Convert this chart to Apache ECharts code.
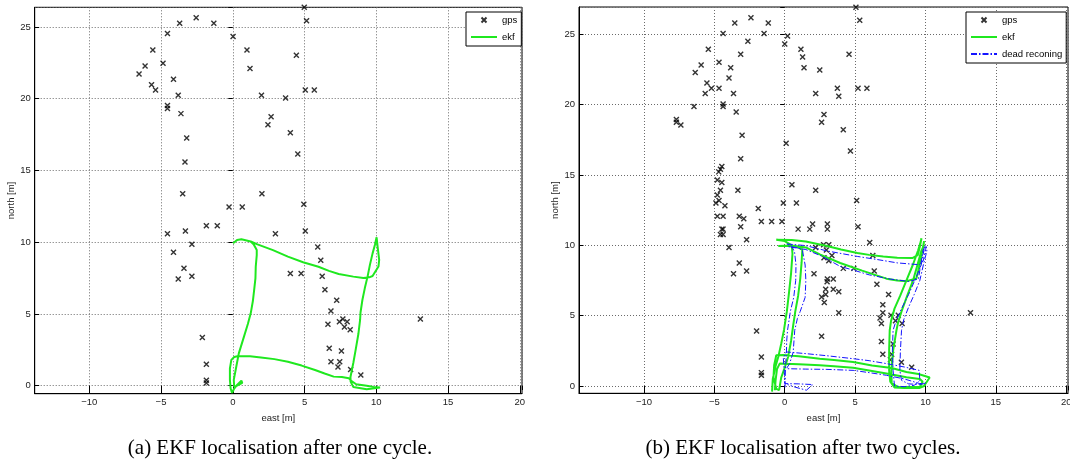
<!DOCTYPE html>
<html>
<head>
<meta charset="utf-8">
<script src="https://cdn.jsdelivr.net/npm/echarts@6/dist/echarts.min.js"></script>
<style>
html,body{margin:0;padding:0;background:#fff;}
#chart{width:1070px;height:459px;}
</style>
</head>
<body>
<div id="chart"></div>
<script>
// ---------- data ----------
const legendOne = ['gps', 'ekf'];
const legendTwo = ['gps', 'ekf', 'dead reconing'];
const captionOne = '(a) EKF localisation after one cycle.';
const captionTwo = '(b) EKF localisation after two cycles.';
const xName = 'east [m]';
const yName = 'north [m]';

const gpsOne = [
[4.98,26.37],[-2.55,25.65],[-3.70,25.26],[-1.32,25.26],[5.14,25.44],[-4.55,24.54],[0.02,24.33],
[-5.57,23.40],[0.99,23.40],[4.43,23.03],[-4.86,22.47],[-6.11,22.28],[1.20,22.10],[-6.53,21.72],
[-4.13,21.35],[-5.66,20.98],[-5.38,20.61],[5.05,20.61],[5.68,20.61],[-3.80,20.24],[2.00,20.24],
[3.68,20.05],[-4.55,19.52],[-4.55,19.31],[-3.61,18.96],[2.67,18.75],[2.45,18.19],[4.01,17.63],
[-3.21,17.26],[4.53,16.15],[-3.33,15.59],[-3.49,13.38],[2.03,13.38],[4.95,12.64],[-0.26,12.45],
[0.66,12.45],[-1.84,11.15],[-1.08,11.15],[-4.55,10.59],[-3.30,10.78],[2.97,10.59],[5.05,10.78],
[-2.85,9.85],[5.92,9.67],[-4.13,9.29],[6.13,8.74],[-3.40,8.18],[4.01,7.81],[4.76,7.81],[6.23,7.62],
[-3.80,7.43],[-2.85,7.62],[6.42,6.69],[7.24,5.95],[6.84,5.20],[13.07,4.65],[7.67,4.65],[7.43,4.46],
[7.97,4.46],[6.63,4.28],[7.78,4.09],[8.18,3.90],[-2.12,3.35],[6.72,2.60],[7.57,2.42],[6.84,1.67],
[7.45,1.67],[-1.84,1.49],[7.33,1.30],[8.21,1.12],[8.92,0.74],[-1.84,0.37],[-1.84,0.19]
];

const ekfOne = [
[0.02,9.92],[0.3,10.15],[0.6,10.2],[1.25,10.05],[1.72,9.85],[2.8,9.45],[3.84,8.99],[4.9,8.6],
[5.97,8.29],[6.7,8.0],[7.38,7.78],[8.4,7.6],[9.1,7.5],[9.5,7.55],[9.74,7.64],[10.15,8.3],[10.2,8.76],
[10.1,9.6],[10.02,10.34],[9.9,9.8],[9.74,9.22],[9.55,8.4],[9.39,7.6],[9.2,6.8],[9.03,5.97],[8.9,5.1],
[8.87,4.58],[8.75,3.6],[8.56,2.49],[8.4,1.6],[8.2,0.6],[8.21,0.28],[8.4,-0.1],[9.33,-0.25],[10.26,-0.12],
[10.3,-0.2],[9.8,-0.1],[9.33,0.0],[8.6,0.1],[8.3,0.3],[8.09,0.51],[7.6,0.6],[7.03,0.63],[6.4,0.85],
[5.73,1.09],[4.8,1.4],[3.84,1.67],[2.9,1.85],[1.96,1.97],[1.2,2.05],[0.4,2.07],[0.1,2.0],[-0.1,1.8],
[-0.2,1.2],[-0.2,0.4],[-0.15,-0.2],[-0.05,-0.5],[0.1,-0.2],[0.3,0.05],[0.6,0.35],[0.66,0.2],[0.4,0.05],
[0.1,-0.1],[0.07,0.4],[0.24,1.3],[0.42,2.25],[0.78,3.42],[1.05,4.3],[1.25,5.04],[1.4,5.9],[1.49,6.67],
[1.58,7.5],[1.6,8.29],[1.67,9.1],[1.67,9.46],[1.45,9.85],[1.25,10.05]
];

const gpsTwo = [
[5.06,26.92],[-2.40,26.18],[-3.55,25.80],[-1.17,25.80],[5.33,25.99],[-4.38,25.05],[-1.47,25.05],
[0.20,24.88],[-2.62,24.50],[0.00,24.31],[-5.43,23.93],[1.15,23.93],[-3.13,23.58],[4.57,23.58],
[1.27,23.39],[-4.67,23.01],[-5.94,22.82],[-3.84,22.63],[1.37,22.63],[2.49,22.47],[-6.36,22.28],
[-3.96,21.90],[-5.53,21.54],[-5.21,21.17],[-4.67,21.17],[3.74,21.17],[5.21,21.17],[5.84,21.17],
[-5.65,20.79],[-3.64,20.79],[2.20,20.79],[3.84,20.60],[-4.38,20.05],[-4.38,19.86],[-6.45,19.86],
[-3.45,19.48],[2.79,19.29],[-7.70,18.94],[-7.70,18.75],[-7.38,18.56],[2.62,18.75],[4.16,18.21],
[-3.03,17.83],[0.10,17.26],[4.67,16.71],[-3.13,16.15],[-4.47,15.60],[-4.57,15.41],[-4.69,15.22],
[-4.79,14.65],[-4.47,14.47],[0.51,14.30],[-4.57,13.92],[-3.33,13.92],[2.20,13.92],[-4.79,13.57],
[-4.67,13.19],[-4.89,13.00],[5.11,13.19],[-4.25,12.81],[-0.10,13.00],[0.83,13.00],[-1.88,12.62],
[-4.79,12.07],[-4.38,12.07],[-3.23,12.07],[-2.91,11.88],[-1.66,11.70],[-0.93,11.70],[-0.20,11.70],
[1.98,11.51],[3.03,11.51],[5.21,11.32],[-3.13,11.32],[-4.47,11.15],[-4.38,11.15],[0.95,11.15],
[1.78,11.15],[3.03,11.15],[-4.57,10.77],[-4.38,10.77],[-2.71,10.39],[6.04,10.20],[2.76,10.04],
[3.13,10.04],[-3.96,9.85],[2.20,9.85],[2.96,9.66],[3.35,9.28],[6.26,9.28],[-3.23,8.74],[2.79,9.11],
[3.13,8.90],[4.16,8.36],[4.91,8.36],[6.36,8.17],[-3.64,7.98],[-2.71,8.17],[2.08,7.98],[3.03,7.60],
[3.45,7.60],[3.01,7.41],[6.55,7.24],[7.38,6.51],[2.91,6.87],[3.45,6.87],[3.84,6.70],[2.91,6.51],
[2.62,6.32],[2.81,5.94],[6.97,5.78],[3.84,5.21],[6.97,5.21],[7.55,5.02],[6.77,4.83],[8.07,5.02],
[7.87,4.64],[6.87,4.45],[8.34,4.45],[-2.00,3.91],[2.62,3.53],[6.87,3.17],[7.70,2.98],[6.97,2.25],
[7.60,2.25],[-1.66,2.06],[7.51,1.87],[8.29,1.68],[9.02,1.33],[-1.66,0.95],[-1.66,0.76],[13.2,5.2]
];

const ekfTwo = [
[-0.9,-0.4],[-0.85,0.5],[-0.65,1.4],[-0.45,2.1],[-0.25,3.0],[-0.05,4.0],[0.15,5.3],[0.3,6.6],[0.45,8.0],
[0.55,9.4],[0.5,10.0],[0.0,10.3],[-0.6,10.4],[-0.5,10.45],[0.5,10.38],[1.5,10.27],[3.0,9.95],[4.0,9.7],
[5.16,9.45],[6.0,9.32],[7.0,9.2],[8.0,9.12],[9.07,9.09],[9.45,9.3],[9.6,9.9],[9.72,10.5],[9.62,10.1],
[9.48,9.64],[9.1,8.6],[8.65,7.5],[8.2,6.4],[7.8,5.5],[7.55,4.6],[7.46,3.96],[7.42,2.6],[7.42,1.1],
[7.5,0.3],[7.8,-0.1],[8.5,-0.15],[9.56,-0.14],[9.9,0.0],[10.3,0.6],[9.5,0.85],[8.65,1.0],[7.6,1.28],
[6.2,1.45],[4.86,1.71],[3.5,1.85],[2.49,1.94],[1.0,2.12],[-0.1,2.2],[-0.6,2.18],[-0.75,1.5],[-0.8,0.6],
[-0.6,-0.2],[-0.4,-0.3],[-0.25,0.6],[0.0,1.3],[0.24,2.06],[0.45,3.2],[0.6,4.3],[0.75,5.3],[0.95,6.4],
[1.1,7.6],[1.2,8.8],[1.25,9.7],[0.8,9.95],[-0.46,9.95],[0.5,9.98],[1.5,9.85],[2.49,9.35],[3.94,8.74],
[5.5,8.2],[7.23,7.63],[8.0,7.5],[8.65,7.45],[9.36,7.65],[9.65,8.9],[9.9,10.3],[9.85,9.9],[9.72,9.64],
[9.4,8.5],[9.12,7.5],[8.7,6.4],[8.3,5.3],[8.05,4.5],[7.94,3.96],[7.7,2.5],[7.58,1.1],[7.6,0.2],
[8.0,-0.05],[8.65,-0.07],[9.6,-0.07],[9.8,0.3],[9.6,0.5],[8.65,0.62],[7.23,0.88],[6.0,1.1],[4.86,1.3],
[3.5,1.4],[2.49,1.47],[1.0,1.55],[-0.36,1.59],[-0.55,1.2],[-0.65,0.4],[-0.7,-0.3]
];

const deadTwo = [
[0.02,-0.1],[0.05,1.2],[0.12,2.4],[0.14,3.2],[0.2,3.96],[0.4,5.3],[0.64,6.3],[0.78,7.5],[0.8,8.6],
[0.7,9.5],[0.5,9.95],[0.1,10.1],[1.49,9.98],[3.0,9.6],[5.16,9.21],[6.5,9.0],[8.0,8.75],[9.56,8.62],
[9.85,8.9],[10.0,9.7],[10.07,9.9],[10.1,9.6],[10.07,9.64],[9.85,8.6],[9.6,7.5],[9.2,6.5],[8.8,5.6],
[8.45,4.7],[8.3,3.96],[8.22,2.5],[8.18,1.11],[8.3,0.4],[8.8,0.15],[9.6,0.1],[10.05,0.2],[9.6,0.17],
[8.5,0.5],[7.23,0.76],[6.0,0.95],[4.86,1.11],[3.0,1.18],[1.5,1.2],[0.12,1.23],[0.35,1.6],[0.6,2.4],
[0.71,3.96],[0.9,4.8],[1.1,5.3],[1.45,6.3],[1.5,7.5],[1.45,8.6],[1.25,9.68],[0.8,9.85],[0.27,9.9],
[1.5,9.7],[2.7,9.2],[3.94,8.5],[5.0,8.2],[6.0,7.9],[7.5,7.6],[8.83,7.43],[9.5,7.6],[9.83,9.64],
[10.0,10.0],[9.9,9.7],[9.7,8.6],[9.24,7.5],[8.8,6.5],[8.3,5.5],[7.9,4.6],[7.7,3.96],[7.65,2.5],
[7.7,1.11],[7.8,0.0],[8.5,-0.05],[9.2,0.05],[9.6,0.4],[9.56,1.11],[8.5,1.35],[7.23,1.59],[6.0,1.8],
[4.86,1.94],[3.0,2.15],[1.5,2.3],[0.12,2.42],[-0.1,2.0],[0.0,0.5],[0.0,0.17],[1.0,0.15],[2.0,0.1],
[1.54,-0.3],[0.8,-0.1],[0.2,0.1]
];

// axis extents (axis equal, as in the figure)
const xRangeOne = [-13.8, 20.15];
const yRangeOne = [-0.56, 26.37];
const xRangeTwo = [-14.62, 20.13];
const yRangeTwo = [-0.52, 26.94];

// ---------- chart ----------
const FONT = '"Liberation Sans", Arial, sans-serif';
const GREEN = '#1fe81f';
const BLUE = '#1414ff';
const fmt = v => String(v).replace('-', '\u2212');

function mainX(gi, r) {
  return {
    type: 'value', gridIndex: gi, min: r[0], max: r[1], splitNumber: 7, position: 'bottom',
    name: xName, nameLocation: 'middle', nameGap: 20,
    nameTextStyle: {fontFamily: FONT, fontSize: 9.5, color: '#222'},
    axisLine: {show: true, onZero: false, lineStyle: {color: '#000', width: 1}},
    axisTick: {show: true, inside: true, length: 4.5, lineStyle: {color: '#000'}},
    axisLabel: {show: true, showMinLabel: false, showMaxLabel: false, formatter: fmt,
      fontFamily: FONT, fontSize: 9.5, color: '#222', margin: 4},
    splitLine: {show: true, lineStyle: {color: '#6a6a6a', width: 1, type: [1, 2]}}
  };
}
function topX(gi, r) {
  return {
    type: 'value', gridIndex: gi, min: r[0], max: r[1], splitNumber: 7, position: 'top',
    axisLine: {show: false}, axisLabel: {show: false}, splitLine: {show: false},
    axisTick: {show: true, inside: true, length: 4.5, lineStyle: {color: '#000'}}
  };
}
function mainY(gi, r) {
  return {
    type: 'value', gridIndex: gi, min: r[0], max: r[1], splitNumber: 6, position: 'left',
    name: yName, nameLocation: 'middle', nameGap: 17,
    nameTextStyle: {fontFamily: FONT, fontSize: 9.5, color: '#222'},
    axisLine: {show: true, onZero: false, lineStyle: {color: '#000', width: 1}},
    axisTick: {show: true, inside: true, length: 4.5, lineStyle: {color: '#000'}},
    axisLabel: {show: true, showMinLabel: false, showMaxLabel: false, formatter: fmt,
      fontFamily: FONT, fontSize: 9.5, color: '#222', margin: 4},
    splitLine: {show: true, lineStyle: {color: '#6a6a6a', width: 1, type: [1, 2]}}
  };
}
function rightY(gi, r) {
  return {
    type: 'value', gridIndex: gi, min: r[0], max: r[1], splitNumber: 6, position: 'right',
    axisLine: {show: false}, axisLabel: {show: false}, splitLine: {show: false},
    axisTick: {show: true, inside: true, length: 4.5, lineStyle: {color: '#000'}}
  };
}

const CROSS = 'path://M0,0L10,10M0,10L10,0';
function gpsSeries(xi, yi, data) {
  return {
    name: 'gps', type: 'scatter', xAxisIndex: xi, yAxisIndex: yi, data: data,
    symbol: CROSS, symbolSize: 5, symbolKeepAspect: true,
    itemStyle: {color: 'rgba(0,0,0,0)', borderColor: '#000', borderWidth: 1.4},
    emphasis: {disabled: true}, z: 2
  };
}
function lineSeries(name, xi, yi, data, color, width, type) {
  return {
    name: name, type: 'line', xAxisIndex: xi, yAxisIndex: yi, data: data,
    symbol: 'none', showSymbol: false, smooth: false, clip: true,
    lineStyle: {color: color, width: width, type: type},
    itemStyle: {color: color},
    emphasis: {disabled: true}, z: 3
  };
}
function legendBox(left, names) {
  return {
    left: left, top: 12, orient: 'vertical',
    data: names.map(n => ({name: n})),
    itemWidth: 26, itemHeight: 5, itemGap: 7, padding: [3, 4, 4, 4],
    backgroundColor: '#fff', borderColor: '#000', borderWidth: 1, borderRadius: 0,
    itemStyle: {color: 'rgba(0,0,0,0)'},
    textStyle: {fontFamily: FONT, fontSize: 9.5, color: '#000'},
    selectedMode: false, inactiveColor: '#000'
  };
}

const chart = echarts.init(document.getElementById('chart'), null, {renderer: 'canvas'});
chart.setOption({
  animation: false,
  backgroundColor: '#fff',
  grid: [
    {left: 34.7, top: 7.3, width: 487.3, height: 386.4, containLabel: false, outerBoundsMode: 'none',
     show: true, borderColor: '#000', borderWidth: 1, backgroundColor: 'transparent'},
    {left: 579, top: 7, width: 489, height: 386.3, containLabel: false, outerBoundsMode: 'none',
     show: true, borderColor: '#000', borderWidth: 1, backgroundColor: 'transparent'}
  ],
  xAxis: [mainX(0, xRangeOne), topX(0, xRangeOne), mainX(1, xRangeTwo), topX(1, xRangeTwo)],
  yAxis: [mainY(0, yRangeOne), rightY(0, yRangeOne), mainY(1, yRangeTwo), rightY(1, yRangeTwo)],
  legend: [legendBox(466, legendOne), legendBox(966, legendTwo)],
  series: [
    gpsSeries(0, 0, gpsOne),
    lineSeries('ekf', 0, 0, ekfOne, GREEN, 2, 'solid'),
    gpsSeries(2, 2, gpsTwo),
    lineSeries('ekf', 2, 2, ekfTwo, GREEN, 2, 'solid'),
    lineSeries('dead reconing', 2, 2, deadTwo, BLUE, 1, [6, 2, 1.5, 2])
  ],
  graphic: [
    {type: 'text', x: 280, y: 448, style: {text: captionOne, font: '21px "Liberation Serif", serif',
      fill: '#000', align: 'center', verticalAlign: 'middle'}},
    {type: 'text', x: 803, y: 448, style: {text: captionTwo, font: '21px "Liberation Serif", serif',
      fill: '#000', align: 'center', verticalAlign: 'middle'}}
  ]
});
</script>
</body>
</html>
